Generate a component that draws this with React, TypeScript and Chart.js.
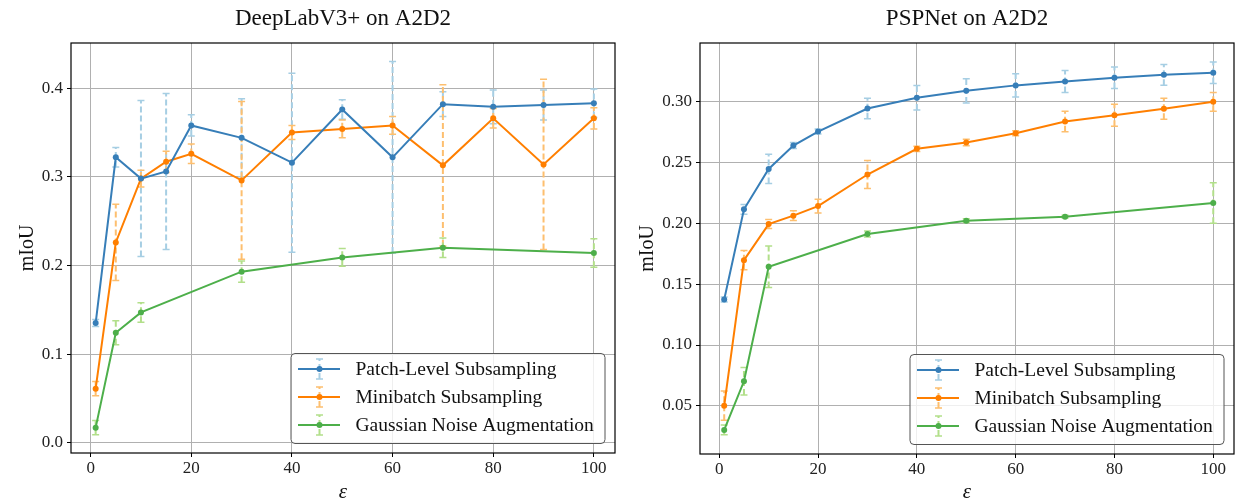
import { useEffect, useRef } from "react";
import { Chart, registerables } from "chart.js";
Chart.register(...registerables);

// ---------- data ----------
const seriesNames = ["Patch-Level Subsampling", "Minibatch Subsampling", "Gaussian Noise Augmentation"];
const lineColors = ["#377eb8", "#ff7f00", "#4daf4a"];
const errColors = ["#a6cee3", "#fdbf6f", "#b2df8a"];

const epsFull = [1, 5, 10, 15, 20, 30, 40, 50, 60, 70, 80, 90, 100];
const epsGauss = [1, 5, 10, 30, 50, 70, 100];
const xTickLabels = ["0", "20", "40", "60", "80", "100"];

// DeepLabV3+ on A2D2
const dlPatch = [0.135, 0.322, 0.298, 0.306, 0.358, 0.344, 0.316, 0.376, 0.322, 0.382, 0.379, 0.381, 0.383];
const dlPatchErr = [0.004, 0.011, 0.088, 0.088, 0.012, 0.044, 0.101, 0.011, 0.108, 0.014, 0.019, 0.017, 0.016];
const dlMini = [0.061, 0.226, 0.298, 0.317, 0.326, 0.296, 0.35, 0.354, 0.358, 0.313, 0.366, 0.314, 0.366];
const dlMiniErr = [0.008, 0.043, 0.0095, 0.012, 0.011, 0.089, 0.008, 0.01, 0.01, 0.091, 0.011, 0.096, 0.012];
const dlGauss = [0.017, 0.124, 0.147, 0.193, 0.209, 0.22, 0.214];
const dlGaussErr = [0.008, 0.0135, 0.011, 0.012, 0.01, 0.011, 0.016];
const dlYTickLabels = ["0.0", "0.1", "0.2", "0.3", "0.4"];
const dlYRange = [-0.0116, 0.451];

// PSPNet on A2D2
const psPatch = [0.1374, 0.2114, 0.2446, 0.2638, 0.2753, 0.2942, 0.303, 0.3087, 0.3132, 0.3164, 0.3194, 0.3219, 0.3235];
const psPatchErr = [0.002, 0.004, 0.012, 0.0025, 0.002, 0.0085, 0.01, 0.01, 0.0095, 0.009, 0.0088, 0.0085, 0.0088];
const psMini = [0.0502, 0.1697, 0.1993, 0.2062, 0.2141, 0.24, 0.2611, 0.2663, 0.2739, 0.2836, 0.2887, 0.294, 0.2997];
const psMiniErr = [0.012, 0.008, 0.0037, 0.004, 0.0056, 0.0115, 0.0022, 0.0026, 0.002, 0.0084, 0.009, 0.0087, 0.0077];
const psGauss = [0.0303, 0.0702, 0.1643, 0.1911, 0.2021, 0.2054, 0.2166];
const psGaussErr = [0.004, 0.0113, 0.017, 0.0025, 0.0015, 0.0012, 0.0166];
const psYTickLabels = ["0.05", "0.10", "0.15", "0.20", "0.25", "0.30"];
const psYRange = [0.0105, 0.348];

const xRange = [-3.9, 104.2];

const SERIF = "'Liberation Serif', 'Times New Roman', serif";

type Panel = {
  title: string;
  xs: number[][];
  ys: number[][];
  errs: number[][];
  yTicks: string[];
  yRange: number[];
  yWidth: number;
  xHeight: number;
  padRight: number;
  yLabelOffset: number;
};

function drawErr(ctx: CanvasRenderingContext2D, x: number, yT: number, yB: number, color: string) {
  ctx.save();
  ctx.strokeStyle = color;
  ctx.lineWidth = 2;
  ctx.setLineDash([6, 3]);
  ctx.beginPath();
  ctx.moveTo(x, yB);
  ctx.lineTo(x, yT);
  ctx.stroke();
  ctx.setLineDash([]);
  ctx.lineWidth = 1.5;
  ctx.beginPath();
  ctx.moveTo(x - 3.5, yT);
  ctx.lineTo(x + 3.5, yT);
  ctx.moveTo(x - 3.5, yB);
  ctx.lineTo(x + 3.5, yB);
  ctx.stroke();
  ctx.restore();
}

function makeDecor(p: Panel) {
  return {
    id: "decor",
    beforeDatasetsDraw(chart: any) {
      const ctx = chart.ctx as CanvasRenderingContext2D;
      const xs = chart.scales.x;
      const ys = chart.scales.y;
      chart.data.datasets.forEach((ds: any, di: number) => {
        ds.data.forEach((pt: any, i: number) => {
          const e = ds.errs[i];
          const x = xs.getPixelForValue(pt.x);
          drawErr(ctx, x, ys.getPixelForValue(pt.y + e), ys.getPixelForValue(pt.y - e), errColors[di]);
        });
      });
    },
    afterDraw(chart: any) {
      const ctx = chart.ctx as CanvasRenderingContext2D;
      const a = chart.chartArea;
      ctx.save();
      // spines
      ctx.strokeStyle = "#000";
      ctx.lineWidth = 1.2;
      ctx.strokeRect(a.left, a.top, a.right - a.left, a.bottom - a.top);
      // title
      ctx.fillStyle = "#111";
      ctx.font = `23px ${SERIF}`;
      ctx.textAlign = "center";
      ctx.textBaseline = "alphabetic";
      ctx.fillText(p.title, (a.left + a.right) / 2, 25);
      // x label
      ctx.font = `italic 21px ${SERIF}`;
      ctx.fillText("ε", (a.left + a.right) / 2, 498);
      // y label
      ctx.save();
      ctx.translate(a.left - p.yLabelOffset, (a.top + a.bottom) / 2);
      ctx.rotate(-Math.PI / 2);
      ctx.font = `20px ${SERIF}`;
      ctx.fillText("mIoU", 0, 0);
      ctx.restore();
      // legend
      const lw = 314, lh = 90;
      const lx = a.right - 10 - lw;
      const ly = a.bottom - 9.5 - lh;
      ctx.beginPath();
      (ctx as any).roundRect(lx, ly, lw, lh, 4);
      ctx.fillStyle = "rgba(255,255,255,0.8)";
      ctx.fill();
      ctx.strokeStyle = "#555";
      ctx.lineWidth = 1;
      ctx.stroke();
      ctx.font = `19.5px ${SERIF}`;
      ctx.textAlign = "left";
      ctx.textBaseline = "middle";
      seriesNames.forEach((name, i) => {
        const cy = ly + 15.5 + i * 28;
        const mx = lx + 28.5;
        drawErr(ctx, mx, cy - 10, cy + 10, errColors[i]);
        ctx.strokeStyle = lineColors[i];
        ctx.lineWidth = 2;
        ctx.setLineDash([]);
        ctx.beginPath();
        ctx.moveTo(lx + 7, cy);
        ctx.lineTo(lx + 49, cy);
        ctx.stroke();
        ctx.fillStyle = lineColors[i];
        ctx.beginPath();
        ctx.arc(mx, cy, 3, 0, Math.PI * 2);
        ctx.fill();
        ctx.fillStyle = "#111";
        ctx.fillText(name, lx + 64.5, cy + 1);
      });
      ctx.restore();
    },
  };
}

function makeConfig(p: Panel): any {
  const yVals = p.yTicks.map((s) => parseFloat(s));
  const xVals = xTickLabels.map((s) => parseFloat(s));
  return {
    type: "line",
    data: {
      datasets: p.ys.map((ys, i) => ({
        label: seriesNames[i],
        data: ys.map((y, j) => ({ x: p.xs[i][j], y })),
        errs: p.errs[i],
        borderColor: lineColors[i],
        backgroundColor: lineColors[i],
        pointBackgroundColor: lineColors[i],
        pointBorderWidth: 0,
        pointRadius: 3,
        borderWidth: 2,
        tension: 0,
        fill: false,
      })),
    },
    options: {
      responsive: false,
      maintainAspectRatio: false,
      animation: false,
      events: [],
      layout: { autoPadding: false, padding: { left: 0, right: p.padRight, top: 43, bottom: 0 } },
      plugins: { legend: { display: false }, title: { display: false }, tooltip: { enabled: false } },
      scales: {
        x: {
          type: "linear",
          min: xRange[0],
          max: xRange[1],
          afterBuildTicks: (s: any) => {
            s.ticks = xVals.map((v) => ({ value: v }));
          },
          afterFit: (s: any) => {
            s.height = p.xHeight;
            s.paddingLeft = 0;
            s.paddingRight = 0;
          },
          border: { display: false },
          grid: { color: "#b0b0b0", lineWidth: 1, tickColor: "#000", tickLength: 4, drawTicks: true },
          ticks: {
            autoSkip: false,
            maxRotation: 0,
            padding: 1,
            color: "#222",
            font: { family: SERIF, size: 17 },
            callback: (_v: any, i: number) => xTickLabels[i],
          },
        },
        y: {
          type: "linear",
          min: p.yRange[0],
          max: p.yRange[1],
          afterBuildTicks: (s: any) => {
            s.ticks = yVals.map((v) => ({ value: v }));
          },
          afterFit: (s: any) => {
            s.width = p.yWidth;
            s.paddingTop = 0;
            s.paddingBottom = 0;
          },
          border: { display: false },
          grid: { color: "#b0b0b0", lineWidth: 1, tickColor: "#000", tickLength: 4, drawTicks: true },
          ticks: {
            autoSkip: false,
            padding: 4,
            color: "#222",
            font: { family: SERIF, size: 17 },
            callback: (_v: any, i: number) => p.yTicks[i],
          },
        },
      },
    },
    plugins: [makeDecor(p)],
  };
}

const leftPanel: Panel = {
  title: "DeepLabV3+ on A2D2",
  xs: [epsFull, epsFull, epsGauss],
  ys: [dlPatch, dlMini, dlGauss],
  errs: [dlPatchErr, dlMiniErr, dlGaussErr],
  yTicks: dlYTickLabels,
  yRange: dlYRange,
  yWidth: 71,
  xHeight: 48,
  padRight: 5,
  yLabelOffset: 38,
};

const rightPanel: Panel = {
  title: "PSPNet on A2D2",
  xs: [epsFull, epsFull, epsGauss],
  ys: [psPatch, psMini, psGauss],
  errs: [psPatchErr, psMiniErr, psGaussErr],
  yTicks: psYTickLabels,
  yRange: psYRange,
  yWidth: 75,
  xHeight: 47,
  padRight: 1,
  yLabelOffset: 47,
};

export default function App() {
  const leftRef = useRef<HTMLCanvasElement>(null);
  const rightRef = useRef<HTMLCanvasElement>(null);
  useEffect(() => {
    document.body.style.margin = "0";
    const c1 = new Chart(leftRef.current as HTMLCanvasElement, makeConfig(leftPanel));
    const c2 = new Chart(rightRef.current as HTMLCanvasElement, makeConfig(rightPanel));
    return () => {
      c1.destroy();
      c2.destroy();
    };
  }, []);
  return (
    <div style={{ position: "relative", width: 1235, height: 501, background: "#fff" }}>
      <canvas ref={leftRef} width={620} height={501} style={{ position: "absolute", left: 0, top: 0, width: 620, height: 501 }} />
      <canvas ref={rightRef} width={610} height={501} style={{ position: "absolute", left: 625, top: 0, width: 610, height: 501 }} />
    </div>
  );
}
